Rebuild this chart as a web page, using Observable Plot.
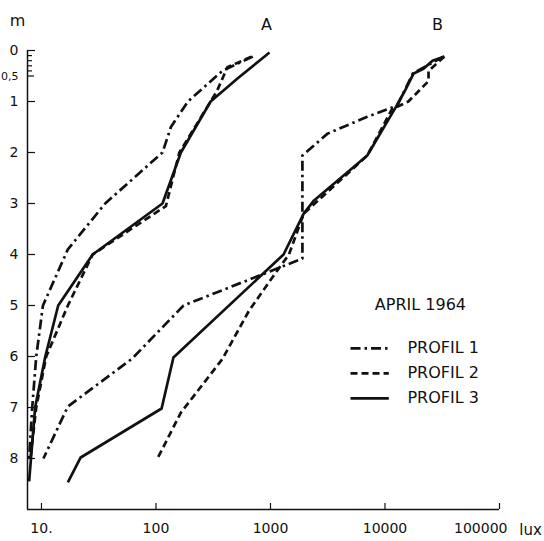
<!DOCTYPE html>
<html><head><meta charset="utf-8">
<script src="https://cdn.jsdelivr.net/npm/d3@7"></script>
<script src="https://cdn.jsdelivr.net/npm/@observablehq/plot@0.6"></script>
<style>
body{margin:0;background:#fff;}
#chart{width:544px;height:541px;}
</style></head><body><div id="chart"></div>
<script>
// ---- data (depth in m, illuminance in lux) ----
const profiles = ["PROFIL 1", "PROFIL 2", "PROFIL 3"];
const groups = ["A", "B"];

const depthA1 = [0.12, 0.4, 1.0, 1.5, 2.0, 3.0, 3.9, 5.0, 6.0, 7.0, 8.0];
const luxA1   = [700, 380, 190, 135, 114, 36, 17, 10.3, 9, 8.3, 7.8];
const depthA2 = [0.12, 0.33, 0.8, 1.0, 2.0, 3.05, 4.0, 5.0, 6.0, 7.0, 8.0];
const luxA2   = [680, 420, 340, 300, 160, 122, 28, 17, 11, 9, 8];
const depthA3 = [0.04, 0.2, 0.55, 1.0, 2.0, 3.0, 4.0, 5.0, 6.0, 7.0, 8.45];
const luxA3   = [980, 800, 515, 300, 165, 114, 28, 14, 10.8, 8.8, 7.8];

const depthB1 = [0.12, 0.45, 1.08, 1.3, 1.63, 2.06, 4.08, 5.0, 6.04, 6.98, 8.0];
const luxB1   = [32500, 17500, 12800, 7000, 3150, 1900, 1900, 174, 62, 17, 10.4];
const depthB2 = [0.12, 0.4, 0.6, 1.0, 1.15, 2.06, 3.2, 4.0, 4.5, 5.1, 6.05, 7.1, 8.0];
const luxB2   = [33000, 24000, 24000, 16000, 11500, 7000, 1950, 1450, 1000, 650, 380, 165, 103];
const depthB3 = [0.12, 0.2, 0.36, 0.45, 0.78, 1.1, 2.06, 2.94, 3.2, 4.0, 6.02, 7.02, 7.98, 8.47];
const luxB3   = [33000, 26000, 21700, 17800, 15000, 12500, 7000, 2400, 1950, 1300, 142, 112, 22, 17];

const xTicks = [10, 100, 1000, 10000, 100000];
const xTickLabels = ["10.", "100", "1000", "10000", "100000"];
const yTicks = [0, 1, 2, 3, 4, 5, 6, 7, 8];
const yTickLabels = ["0", "1", "2", "3", "4", "5", "6", "7", "8"];
const yMinorTicks = [0.1, 0.2, 0.3, 0.4];
const yHalfTick = [0.5];
const yHalfLabel = ["0,5"];
const title = "APRIL 1964";
const xUnit = "lux";
const yUnit = "m";

// ---- build rows ----
const rows = [];
function add(group, profile, depths, luxes) {
  depths.forEach((d, i) => rows.push({group, profile, depth: d, lux: luxes[i]}));
}
add("A", profiles[0], depthA1, luxA1);
add("A", profiles[1], depthA2, luxA2);
add("A", profiles[2], depthA3, luxA3);
add("B", profiles[0], depthB1, luxB1);
add("B", profiles[1], depthB2, luxB2);
add("B", profiles[2], depthB3, luxB3);

const dashes = ["10,4,2.5,4", "7,4", null];
const ink = "#111";
const xMin = 7.55, yMax = 9;
const lastTick = xTicks[xTicks.length - 1];
const innerTicks = xTicks.slice(0, -1);

const lineMarks = profiles.map((p, i) =>
  Plot.line(rows.filter(r => r.profile === p), {
    x: "lux", y: "depth", z: "group", stroke: ink, strokeWidth: 2.7,
    strokeDasharray: dashes[i], strokeLinejoin: "round", strokeLinecap: "butt"
  })
);

const legendRows = profiles.map((p, i) => ({profile: p, i}));
const legendMarks = legendRows.map((r, i) =>
  Plot.link([r], {
    x1: () => 5000, x2: () => 10800,
    y1: () => 5.84 + i * 0.49, y2: () => 5.84 + i * 0.49,
    stroke: ink, strokeWidth: 2.7, strokeDasharray: dashes[i]
  })
);

const chart = Plot.plot({
  width: 544, height: 541,
  marginLeft: 27, marginRight: 45, marginTop: 50, marginBottom: 32,
  style: "font-family: 'DejaVu Sans', sans-serif; font-size: 14px; background: #fff; color: #111;",
  x: {type: "log", domain: [xMin, 100000], label: null},
  y: {domain: [0, yMax], reverse: true, label: null},
  marks: [
    Plot.ruleX([xMin], {stroke: ink, strokeWidth: 1.5}),
    Plot.ruleY([yMax], {stroke: ink, strokeWidth: 1.4}),
    Plot.axisY({ticks: yTicks, label: null, tickSize: -8, tickFormat: () => "", stroke: ink, strokeWidth: 1.2}),
    Plot.axisY({ticks: yMinorTicks, label: null, tickSize: -5, tickFormat: () => "", stroke: ink, strokeWidth: 1.2}),
    Plot.axisY({ticks: yHalfTick, label: null, tickSize: -7, tickFormat: () => "", stroke: ink, strokeWidth: 1.2}),
    Plot.axisY({ticks: yTicks, label: null, tickSize: 0, tickPadding: 9, fontSize: 14, fill: ink,
      tickFormat: d => yTickLabels[yTicks.indexOf(d)]}),
    Plot.axisY({ticks: yHalfTick, label: null, tickSize: 0, tickPadding: 9, fontSize: 11, fill: ink,
      tickFormat: () => yHalfLabel[0]}),
    Plot.axisX({ticks: xTicks, label: null, tickSize: -6, tickFormat: () => "", stroke: ink, strokeWidth: 1.2}),
    Plot.axisX({ticks: innerTicks, label: null, tickSize: 0, tickPadding: 14, fontSize: 14, fill: ink,
      tickFormat: d => xTickLabels[xTicks.indexOf(d)]}),
    Plot.axisX({ticks: [lastTick], label: null, tickSize: 0, tickPadding: 14, fontSize: 14, fill: ink,
      textAnchor: "end", dx: 8, tickFormat: d => xTickLabels[xTicks.indexOf(d)]}),
    Plot.text([yUnit], {frameAnchor: "top-left", dx: -10, dy: -30, textAnchor: "middle", lineAnchor: "middle", fontSize: 16, fill: ink}),
    Plot.text([xUnit], {frameAnchor: "bottom-right", dx: 31, dy: 21, textAnchor: "middle", lineAnchor: "middle", fontSize: 15, fill: ink}),
    Plot.text(groups, {x: d => [923, 28700][groups.indexOf(d)], y: () => -0.51, text: d => d, fontSize: 16, fill: ink}),
    ...lineMarks,
    ...legendMarks,
    Plot.text([title], {x: () => 20400, y: () => 4.98, text: d => d, fontSize: 16, fill: ink, style: "letter-spacing:1.5px"}),
    Plot.text(legendRows, {x: () => 15700, y: d => 5.84 + d.i * 0.49, text: "profile", textAnchor: "start", fontSize: 16, fill: ink, style: "letter-spacing:0.8px"})
  ]
});
document.getElementById("chart").appendChild(chart);
</script>
</body></html>
